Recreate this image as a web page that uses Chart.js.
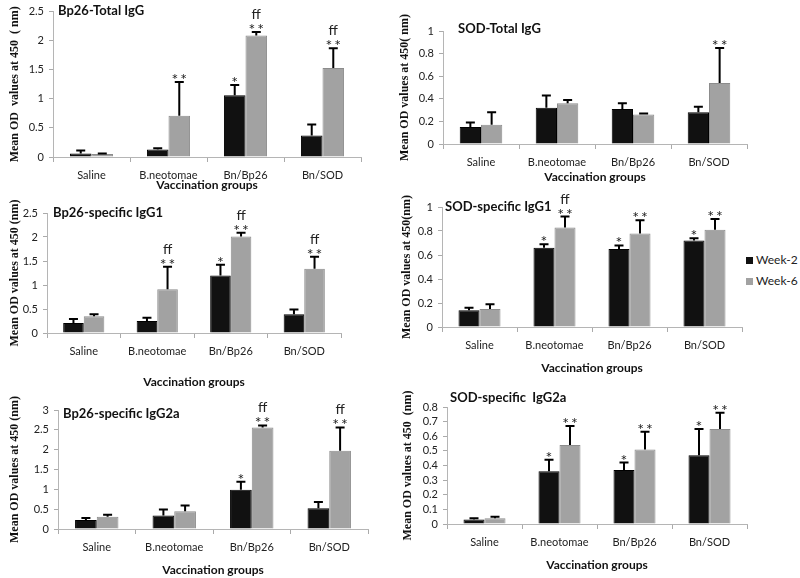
<!DOCTYPE html>
<html><head><meta charset="utf-8">
<script src="https://cdn.jsdelivr.net/npm/chart.js@4"></script>
<style>
html,body{margin:0;padding:0;background:#fff;}
body{width:800px;height:578px;overflow:hidden;position:relative;font-family:Lato,sans-serif;}
.pane{position:absolute;}
.pane canvas{display:block;}
#legend{position:absolute;left:746px;top:251px;font:12px Lato,sans-serif;color:#222;}
#legend div{height:21px;line-height:17px;white-space:nowrap;}
#legend span.sw{display:inline-block;width:7px;height:7px;margin-right:3px;vertical-align:0px;}
</style></head><body>
<div class="pane" id="p1"><canvas></canvas></div>
<div class="pane" id="p2"><canvas></canvas></div>
<div class="pane" id="p3"><canvas></canvas></div>
<div class="pane" id="p4"><canvas></canvas></div>
<div class="pane" id="p5"><canvas></canvas></div>
<div class="pane" id="p6"><canvas></canvas></div>
<div id="legend"></div>
<script>
// ---------------- data ----------------
const categories = ['Saline', 'B.neotomae', 'Bn/Bp26', 'Bn/SOD'];
const seriesLabels = ['Week-2', 'Week-6'];
const xAxisTitle = 'Vaccination groups';

// Panel 1: Bp26-Total IgG
const p1Title = 'Bp26-Total IgG';
const p1YTitle = 'Mean OD  values at 450  ( nm)';
const p1Week2 = [0.06, 0.13, 1.06, 0.37];
const p1Week2Err = [0.05, 0.02, 0.18, 0.19];
const p1Week6 = [0.05, 0.71, 2.09, 1.53];
const p1Week6Err = [0.01, 0.58, 0.06, 0.34];
const p1Week2Sig = [[], [], ['*'], []];
const p1Week6Sig = [[], ['**'], ['ff', '**'], ['ff', '**']];
const p1YMax = 2.5, p1YStep = 0.5;

// Panel 2: SOD-Total IgG
const p2Title = 'SOD-Total IgG';
const p2YTitle = 'Mean OD values at 450( nm)';
const p2Week2 = [0.15, 0.32, 0.31, 0.28];
const p2Week2Err = [0.04, 0.11, 0.05, 0.05];
const p2Week6 = [0.17, 0.36, 0.26, 0.54];
const p2Week6Err = [0.11, 0.03, 0.01, 0.31];
const p2Week2Sig = [[], [], [], []];
const p2Week6Sig = [[], [], [], ['**']];
const p2YMax = 1, p2YStep = 0.2;

// Panel 3: Bp26-specific IgG1
const p3Title = 'Bp26-specific IgG1';
const p3YTitle = 'Mean OD values at 450 (nm)';
const p3Week2 = [0.21, 0.25, 1.20, 0.39];
const p3Week2Err = [0.08, 0.07, 0.22, 0.10];
const p3Week6 = [0.35, 0.91, 2.01, 1.34];
const p3Week6Err = [0.04, 0.47, 0.08, 0.25];
const p3Week2Sig = [[], [], ['*'], []];
const p3Week6Sig = [[], ['ff', '**'], ['ff', '**'], ['ff', '**']];
const p3YMax = 2.5, p3YStep = 0.5;

// Panel 4: SOD-specific IgG1
const p4Title = 'SOD-specific IgG1';
const p4YTitle = 'Mean OD values at 450(nm)';
const p4Week2 = [0.14, 0.66, 0.65, 0.72];
const p4Week2Err = [0.02, 0.03, 0.03, 0.02];
const p4Week6 = [0.15, 0.83, 0.78, 0.81];
const p4Week6Err = [0.04, 0.09, 0.11, 0.09];
const p4Week2Sig = [[], ['*'], ['*'], ['*']];
const p4Week6Sig = [[], ['ff', '**'], ['**'], ['**']];
const p4YMax = 1, p4YStep = 0.2;

// Panel 5: Bp26-specific IgG2a
const p5Title = 'Bp26-specific IgG2a';
const p5YTitle = 'Mean OD values at 450 (nm)';
const p5Week2 = [0.23, 0.34, 0.99, 0.52];
const p5Week2Err = [0.05, 0.15, 0.20, 0.16];
const p5Week6 = [0.31, 0.45, 2.56, 1.97];
const p5Week6Err = [0.05, 0.14, 0.05, 0.59];
const p5Week2Sig = [[], [], ['*'], []];
const p5Week6Sig = [[], [], ['ff', '**'], ['ff', '**']];
const p5YMax = 3, p5YStep = 0.5;

// Panel 6: SOD-specific IgG2a
const p6Title = 'SOD-specific  IgG2a';
const p6YTitle = 'Mean OD values at 450  (nm)';
const p6Week2 = [0.03, 0.36, 0.37, 0.47];
const p6Week2Err = [0.01, 0.08, 0.05, 0.18];
const p6Week6 = [0.04, 0.54, 0.51, 0.65];
const p6Week6Err = [0.01, 0.13, 0.12, 0.11];
const p6Week2Sig = [[], ['*'], ['*'], ['*']];
const p6Week6Sig = [[], ['**'], ['**'], ['**']];
const p6YMax = 0.8, p6YStep = 0.1;

// ---------------- styling / layout ----------------
const colWeek2 = '#111111';
const colWeek6 = '#a2a2a2';
const FONT = 'Lato, "Open Sans", sans-serif';

const layouts = {
  p1: {canvas: [0, 0, 380, 192],   area: [53, 11, 361, 157],  yTitleX: 15,  xTitleY: 185, titleXY: [58, 11]},
  p2: {canvas: [380, 0, 420, 190], area: [443, 31, 747, 144], yTitleX: 405, xTitleY: 177, titleXY: [458, 29]},
  p3: {canvas: [0, 195, 380, 195], area: [47, 213, 341, 333], yTitleX: 15,  xTitleY: 382, titleXY: [53, 213]},
  p4: {canvas: [380, 190, 365, 188], area: [442, 207, 742, 327], yTitleX: 407, xTitleY: 368, titleXY: [445, 207]},
  p5: {canvas: [0, 385, 380, 193], area: [58, 410, 368, 529], yTitleX: 15,  xTitleY: 570, titleXY: [63, 414]},
  p6: {canvas: [380, 380, 420, 198], area: [447, 407, 747, 524], yTitleX: 408, xTitleY: 565, titleXY: [450, 398]}
};

const errorAndMarksPlugin = {
  id: 'errorAndMarks',
  afterDatasetsDraw(chart) {
    const ctx = chart.ctx, ys = chart.scales.y;
    chart.data.datasets.forEach((ds, i) => {
      const meta = chart.getDatasetMeta(i);
      meta.data.forEach((bar, j) => {
        const topPix = ys.getPixelForValue(ds.data[j] + ds.errors[j]);
        ctx.save();
        ctx.strokeStyle = '#000';
        ctx.lineWidth = 2;
        ctx.beginPath();
        ctx.moveTo(bar.x, bar.y);
        ctx.lineTo(bar.x, topPix);
        ctx.moveTo(bar.x - 4.5, topPix);
        ctx.lineTo(bar.x + 4.5, topPix);
        ctx.stroke();
        const lines = ds.marks[j];
        ctx.fillStyle = '#222';
        ctx.textAlign = 'center';
        ctx.textBaseline = 'alphabetic';
        let base = topPix - 1;
        for (let k = lines.length - 1; k >= 0; k--) {
          const t = lines[k];
          if (t.indexOf('*') >= 0) {
            ctx.font = '16px ' + FONT;
            ctx.letterSpacing = '2px';
            ctx.fillText(t, bar.x + 1, base + 4);
            base -= 12;
          } else {
            ctx.font = '14px ' + FONT;
            ctx.letterSpacing = '0px';
            ctx.fillText(t, bar.x, base);
            base -= 12;
          }
        }
        ctx.restore();
      });
    });
  },
  afterDraw(chart) {
    const o = chart.options.plugins.errorAndMarks;
    const ctx = chart.ctx;
    ctx.save();
    ctx.font = 'bold 13px ' + FONT;
    ctx.fillStyle = '#111';
    ctx.textAlign = 'left';
    ctx.textBaseline = 'middle';
    ctx.fillText(o.title, o.tx, o.ty);
    ctx.restore();
  }
};

function makePanel(id, title, yTitle, w2, w2e, w6, w6e, s2, s6, yMax, yStep) {
  const lay = layouts[id];
  const [cx, cy, cw, ch] = lay.canvas;
  const [L, T, R, B] = lay.area;
  const el = document.getElementById(id);
  el.style.left = cx + 'px'; el.style.top = cy + 'px';
  el.style.width = cw + 'px'; el.style.height = ch + 'px';
  const cv = el.querySelector('canvas');
  cv.width = cw; cv.height = ch;
  const yW = L - cx;
  const xH = cy + ch - B;
  const titleLH = 14.4;
  new Chart(cv, {
    type: 'bar',
    data: {
      labels: categories,
      datasets: [
        {label: seriesLabels[0], data: w2, errors: w2e, marks: s2,
         backgroundColor: colWeek2, borderColor: '#000', borderWidth: 1},
        {label: seriesLabels[1], data: w6, errors: w6e, marks: s6,
         backgroundColor: colWeek6, borderColor: '#8c8c8c', borderWidth: 1}
      ]
    },
    options: {
      responsive: false,
      animation: false,
      events: [],
      categoryPercentage: 0.56,
      barPercentage: 1.0,
      layout: {padding: {left: 0, top: T - cy, right: cx + cw - R, bottom: 0}},
      plugins: {
        legend: {display: false},
        tooltip: {enabled: false},
        title: {display: false},
        errorAndMarks: {title: title, tx: lay.titleXY[0] - cx, ty: lay.titleXY[1] - cy}
      },
      scales: {
        x: {
          afterFit: (s) => { s.height = xH; },
          grid: {display: true, drawOnChartArea: false, drawTicks: true, tickLength: 5, color: '#aaaaaa', offset: true},
          border: {display: true, color: '#b5b5b5', width: 1},
          ticks: {font: {family: FONT, size: 11}, color: '#222', padding: 7, maxRotation: 0},
          title: {display: true, text: xAxisTitle, font: {family: FONT, size: 12, weight: 'bold'}, color: '#111',
                  padding: {top: 0, bottom: Math.max(0, cy + ch - lay.xTitleY - titleLH / 2)}}
        },
        y: {
          min: 0, max: yMax,
          afterFit: (s) => { s.width = yW; },
          grid: {display: true, drawOnChartArea: false, drawTicks: true, tickLength: 4, color: '#aaaaaa'},
          border: {display: true, color: '#b5b5b5', width: 1},
          ticks: {stepSize: yStep, autoSkip: false, font: {family: FONT, size: 11}, color: '#222', padding: 5,
                  callback: (v) => String(Math.round(v * 100) / 100)},
          title: {display: true, text: yTitle, font: {family: '"Liberation Serif", serif', size: 12, weight: 'bold'}, color: '#111',
                  padding: {top: Math.max(0, lay.yTitleX - cx - titleLH / 2), bottom: 0}}
        }
      }
    },
    plugins: [errorAndMarksPlugin]
  });
}

makePanel('p1', p1Title, p1YTitle, p1Week2, p1Week2Err, p1Week6, p1Week6Err, p1Week2Sig, p1Week6Sig, p1YMax, p1YStep);
makePanel('p2', p2Title, p2YTitle, p2Week2, p2Week2Err, p2Week6, p2Week6Err, p2Week2Sig, p2Week6Sig, p2YMax, p2YStep);
makePanel('p3', p3Title, p3YTitle, p3Week2, p3Week2Err, p3Week6, p3Week6Err, p3Week2Sig, p3Week6Sig, p3YMax, p3YStep);
makePanel('p4', p4Title, p4YTitle, p4Week2, p4Week2Err, p4Week6, p4Week6Err, p4Week2Sig, p4Week6Sig, p4YMax, p4YStep);
makePanel('p5', p5Title, p5YTitle, p5Week2, p5Week2Err, p5Week6, p5Week6Err, p5Week2Sig, p5Week6Sig, p5YMax, p5YStep);
makePanel('p6', p6Title, p6YTitle, p6Week2, p6Week2Err, p6Week6, p6Week6Err, p6Week2Sig, p6Week6Sig, p6YMax, p6YStep);

// legend (shared, shown next to panel 4)
const leg = document.getElementById('legend');
[colWeek2, colWeek6].forEach((c, i) => {
  const row = document.createElement('div');
  const sw = document.createElement('span');
  sw.className = 'sw';
  sw.style.background = c;
  row.appendChild(sw);
  row.appendChild(document.createTextNode(seriesLabels[i]));
  leg.appendChild(row);
});
</script>
</body></html>
